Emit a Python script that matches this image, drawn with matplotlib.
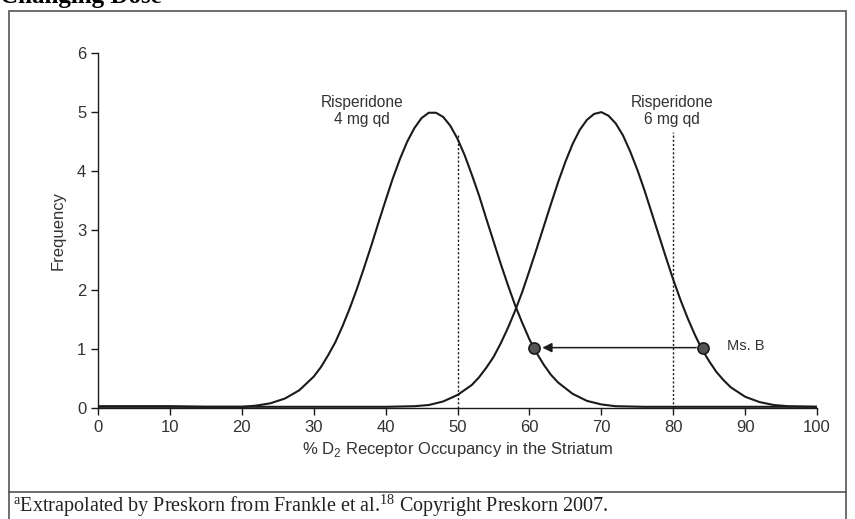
import matplotlib.pyplot as plt
from matplotlib.lines import Line2D
from matplotlib.patches import Rectangle

plt.rcParams["mathtext.fontset"] = "custom"
plt.rcParams["mathtext.rm"] = "Liberation Serif"
plt.rcParams["mathtext.sf"] = "Liberation Sans"

# 4 mg qd curve
occ_4mg = [0, 5, 10, 15, 20, 22, 24, 26, 28, 30, 31, 32, 33, 34, 35, 36, 37, 38,
           39, 40, 41, 42, 43, 44, 45, 46, 47, 48, 49, 50, 51, 52, 53, 54, 55, 56,
           57, 58, 59, 60, 61, 62, 63, 64, 66, 68, 70, 72, 76, 80, 85, 90, 95, 100]
freq_4mg = [0.03, 0.03, 0.03, 0.02, 0.02, 0.04, 0.08, 0.16, 0.30, 0.53, 0.69, 0.89,
            1.11, 1.38, 1.68, 2.01, 2.37, 2.74, 3.13, 3.51, 3.88, 4.21, 4.50, 4.73,
            4.90, 4.99, 4.99, 4.92, 4.77, 4.55, 4.27, 3.94, 3.59, 3.20, 2.82, 2.44,
            2.08, 1.74, 1.44, 1.16, 0.93, 0.73, 0.56, 0.43, 0.24, 0.12, 0.06, 0.03,
            0.02, 0.02, 0.02, 0.02, 0.02, 0.02]

# 6 mg qd curve
occ_6mg = [0, 10, 20, 30, 40, 44, 46, 48, 50, 52, 53, 54, 55, 56, 57, 58, 59, 60,
           61, 62, 63, 64, 65, 66, 67, 68, 69, 70, 71, 72, 73, 74, 75, 76, 77, 78,
           79, 80, 81, 82, 83, 84, 85, 86, 87, 88, 90, 92, 94, 96, 100]
freq_6mg = [0.02, 0.02, 0.02, 0.02, 0.02, 0.03, 0.05, 0.11, 0.22, 0.39, 0.52, 0.68,
            0.86, 1.09, 1.35, 1.64, 1.96, 2.32, 2.69, 3.07, 3.45, 3.82, 4.16, 4.46,
            4.70, 4.87, 4.97, 5.00, 4.94, 4.81, 4.61, 4.34, 4.03, 3.68, 3.30, 2.92,
            2.54, 2.17, 1.83, 1.52, 1.24, 0.99, 0.79, 0.61, 0.47, 0.35, 0.19, 0.10,
            0.05, 0.03, 0.02]

# dotted reference lines
ref_x = [50, 80]
ref_top = [4.62, 4.66]

# Ms. B: occupancy before / after the dose change
msb_x = [84.2, 60.6]
msb_y = [1.02, 1.02]

labels = ["Risperidone\n4 mg qd", "Risperidone\n6 mg qd"]
label_x = [36.7, 79.8]
label_y = [5.02, 5.02]

fig = plt.figure(figsize=(8.55, 5.19), dpi=100)
ax = fig.add_axes([0.1146, 0.2139, 0.8410, 0.6840])

sans = "Liberation Sans"
serif = "Liberation Serif"
ink = "#1a1a1a"

ax.plot(occ_4mg, freq_4mg, color=ink, lw=1.5, solid_joinstyle="round")
ax.plot(occ_6mg, freq_6mg, color=ink, lw=1.5, solid_joinstyle="round")

for x, top in zip(ref_x, ref_top):
    ax.plot([x, x], [0, top], color=ink, lw=1.0, linestyle=(0, (1.5, 1.5)))

ax.annotate("", xy=(msb_x[1] + 1.2, msb_y[1]), xytext=(msb_x[0] - 1.0, msb_y[0]),
            arrowprops=dict(arrowstyle="-|>", color=ink, lw=1.1,
                            mutation_scale=14, shrinkA=0, shrinkB=0))
ax.plot(msb_x, msb_y, "o", ms=8, color="#555555", markeredgecolor=ink,
        markeredgewidth=1.2, zorder=5)
ax.text(87.5, 1.05, "Ms. B", fontsize=10.5, family=sans, va="center", ha="left",
        color="#333333")

for t, x, y in zip(labels, label_x, label_y):
    ax.text(x, y, t, fontsize=11.2, family=sans, ha="center", va="center",
            color="#333333", linespacing=1.15)

ax.set_xlim(0, 100)
ax.set_ylim(0, 6)
ax.set_xticks(range(0, 101, 10))
ax.set_yticks(range(0, 7))
ax.spines["top"].set_visible(False)
ax.spines["right"].set_visible(False)
for s in ("left", "bottom"):
    ax.spines[s].set_linewidth(1.0)
    ax.spines[s].set_color(ink)
ax.tick_params(direction="out", length=5, width=1.0, colors=ink,
               labelsize=12, labelcolor="#333333")
for lab in ax.get_xticklabels() + ax.get_yticklabels():
    lab.set_family(sans)
ax.set_xlabel("% D$_\\mathsf{2}$ Receptor Occupancy in the Striatum", fontsize=12,
              family=sans, color="#333333", labelpad=4)
ax.set_ylabel("Frequency", fontsize=12, family=sans, color="#333333", labelpad=8)
ax.patch.set_alpha(0)

# outer frame, footnote separator and texts
W, H = 855, 519
fig.patches.append(Rectangle((9 / W, -0.01), (846 - 9) / W, (H - 11) / H + 0.01,
                             transform=fig.transFigure, fill=False,
                             edgecolor="#555555", lw=1.2))
fig.lines.append(Line2D([9 / W, 846 / W], [1 - 492 / H, 1 - 492 / H],
                        transform=fig.transFigure, color="#555555", lw=1.2))
fig.text(0.0, 1 - 3 / H, "Changing Dose", fontsize=18, family=serif,
         weight="bold", va="baseline", ha="left")
fig.text(13 / W, 1 - 512 / H,
         "$^{\\mathrm{a}}$Extrapolated by Preskorn from Frankle et al.$^{\\mathrm{18}}$ Copyright Preskorn 2007.",
         fontsize=14.5, family=serif, va="baseline", ha="left", color="#222222")

fig.savefig("out.png", dpi=100)
